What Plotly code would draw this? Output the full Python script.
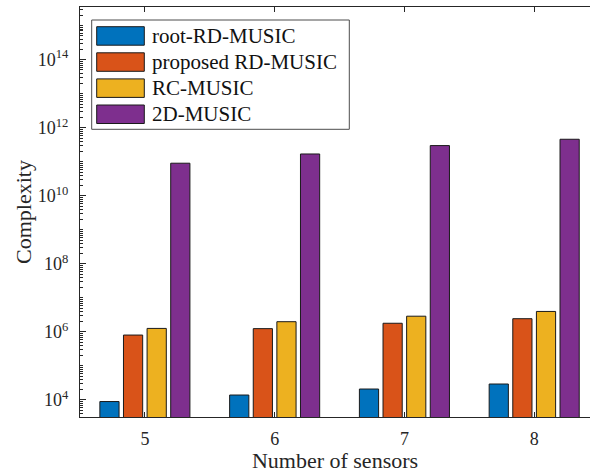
import plotly.graph_objects as go

# Number of sensors (x categories)
sensors = [5, 6, 7, 8]

# Complexity of each method
series_names = ["root-RD-MUSIC", "proposed RD-MUSIC", "RC-MUSIC", "2D-MUSIC"]
root_rd_music = [9.0e3, 1.4e4, 2.1e4, 2.95e4]
proposed_rd_music = [8.1e5, 1.25e6, 1.8e6, 2.45e6]
rc_music = [1.27e6, 2.0e6, 2.9e6, 4.0e6]
music_2d = [9.1e10, 1.7e11, 3.0e11, 4.6e11]
series_values = [root_rd_music, proposed_rd_music, rc_music, music_2d]

colors = ["#0072BD", "#D95319", "#EDB120", "#7E2F8E"]

# Y tick labels
y_tick_exps = [4, 6, 8, 10, 12, 14]
y_tick_vals = [10 ** e for e in y_tick_exps]
y_tick_text = [f"10<sup>{e}</sup>" for e in y_tick_exps]
minor_vals = [k * 10 ** n for n in range(3, 16) for k in range(1, 10)
              if not (k == 1 and n in y_tick_exps)]

W, H = 590, 473
ML, MR, MT, MB = 80, 0, 7, 56
PW, PH = W - ML - MR, H - MT - MB

FONT = "Liberation Serif, Times New Roman, serif"
AX = "#262626"


def px(x):
    return (x - ML) / PW


def py(y):
    return (H - MB - y) / PH


fig = go.Figure()
for name, vals, col in zip(series_names, series_values, colors):
    fig.add_trace(go.Bar(
        x=sensors, y=vals, name=name, showlegend=False,
        marker=dict(color=col, line=dict(color="#1a1a1a", width=1)),
    ))

# Legend box with wide swatches
shapes = [dict(type="rect", xref="paper", yref="paper",
               x0=px(91.7), x1=px(349.3), y0=py(129.3), y1=py(20),
               line=dict(color="#4d4d4d", width=1), fillcolor="white", layer="above")]
annotations = []
for i, (name, col) in enumerate(zip(series_names, colors)):
    top = 26.7 + i * 26.1
    bot = top + 18.5
    shapes.append(dict(type="rect", xref="paper", yref="paper",
                       x0=px(96.7), x1=px(144.3), y0=py(bot), y1=py(top),
                       line=dict(color="#1a1a1a", width=1), fillcolor=col, layer="above"))
    annotations.append(dict(xref="paper", yref="paper", x=px(150), y=py((top + bot) / 2),
                            text=name, showarrow=False, xanchor="left", yanchor="middle",
                            font=dict(family=FONT, size=21, color="#111")))

fig.update_layout(
    width=W, height=H,
    margin=dict(l=ML, r=MR, t=MT, b=MB, pad=0),
    paper_bgcolor="white", plot_bgcolor="white",
    barmode="group", bargap=0.272, bargroupgap=0.187,
    font=dict(family=FONT, size=18, color=AX),
    shapes=shapes, annotations=annotations,
    xaxis=dict(
        type="linear", range=[4.5, 8.43],
        tickvals=sensors, ticktext=[str(s) for s in sensors],
        ticks="inside", ticklen=5, tickwidth=1, tickcolor=AX,
        showline=True, linecolor=AX, linewidth=1, mirror="ticks",
        showgrid=False, zeroline=False,
        tickfont=dict(family=FONT, size=18, color=AX),
        ticklabelstandoff=5,
        title=dict(text="Number of sensors", standoff=6,
                   font=dict(family=FONT, size=22, color=AX)),
    ),
    yaxis=dict(
        type="log", range=[3.5, 15.55],
        tickvals=y_tick_vals, ticktext=y_tick_text,
        ticks="inside", ticklen=6, tickwidth=1, tickcolor=AX,
        minor=dict(tickmode="array", tickvals=minor_vals, ticks="inside",
                   ticklen=3, tickwidth=1, tickcolor=AX, showgrid=False),
        showline=True, linecolor=AX, linewidth=1, mirror=False,
        showgrid=False, zeroline=False,
        tickfont=dict(family=FONT, size=18, color=AX),
        ticklabelstandoff=7,
        title=dict(text="Complexity", standoff=0,
                   font=dict(family=FONT, size=22, color=AX)),
    ),
)

fig.write_html("out.html")
